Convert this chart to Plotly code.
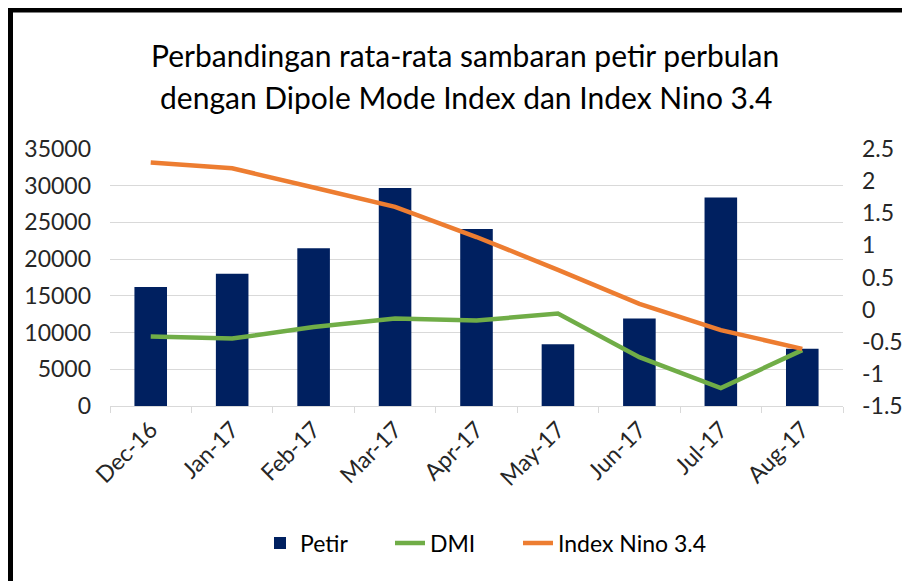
import plotly.graph_objects as go
from plotly.subplots import make_subplots

months = ["Dec-16", "Jan-17", "Feb-17", "Mar-17", "Apr-17", "May-17", "Jun-17", "Jul-17", "Aug-17"]
petir = [16200, 18000, 21500, 29700, 24100, 8400, 11900, 28400, 7800]
dmi = [-0.42, -0.45, -0.27, -0.14, -0.17, -0.06, -0.74, -1.22, -0.63]
nino = [2.29, 2.20, 1.90, 1.60, 1.13, 0.62, 0.09, -0.32, -0.61]

left_tick_vals = [0, 5000, 10000, 15000, 20000, 25000, 30000, 35000]
left_tick_labels = ["0", "5000", "10000", "15000", "20000", "25000", "30000", "35000"]
right_tick_vals = [-1.5, -1, -0.5, 0, 0.5, 1, 1.5, 2, 2.5]
right_tick_labels = ["-1.5", "-1", "-0.5", "0", "0.5", "1", "1.5", "2", "2.5"]

title_lines = ["Perbandingan rata-rata sambaran petir perbulan",
               "dengan Dipole Mode Index dan Index Nino 3.4"]

FONT = "Lato, Open Sans, sans-serif"
OFF = 8  # page body margin
W, H = 910, 581
# target plot area in screenshot pixels: x 110..843, y 149..406
L = 110 - OFF
T = 149 - OFF
R = W - (843 - OFF)
B = H - (406 - OFF)
PW, PH = W - L - R, H - T - B

def px(x):
    return (x - OFF - L) / PW

def py(y):
    return (H - B - (y - OFF)) / PH

fig = make_subplots(specs=[[{"secondary_y": True}]])
fig.add_trace(go.Bar(x=months, y=petir, name="Petir", marker_color="#002060",
                     marker_line_width=0, width=0.4, legend="legend"), secondary_y=False)
fig.add_trace(go.Scatter(x=months, y=dmi, name="DMI", mode="lines", legend="legend2",
                         line=dict(color="#70AD47", width=4.5)), secondary_y=True)
fig.add_trace(go.Scatter(x=months, y=nino, name="Index Nino 3.4", mode="lines", legend="legend3",
                         line=dict(color="#ED7D31", width=4.5)), secondary_y=True)

annotations = [
    dict(text=title_lines[0], xref="paper", yref="paper", x=px(465), y=py(55),
         xanchor="center", yanchor="middle", showarrow=False,
         font=dict(family=FONT, size=30, color="#000000")),
    dict(text=title_lines[1], xref="paper", yref="paper", x=px(466), y=py(97),
         xanchor="center", yanchor="middle", showarrow=False,
         font=dict(family=FONT, size=30, color="#000000")),
]

def legend_at(xpix):
    return dict(orientation="h", x=px(xpix), xanchor="left", y=py(543), yanchor="middle",
                bgcolor="rgba(0,0,0,0)",
                font=dict(family=FONT, size=23, color="#000000"))

fig.update_layout(
    width=W, height=H,
    margin=dict(l=L, r=R, t=T, b=B, autoexpand=False),
    paper_bgcolor="white", plot_bgcolor="white",
    font=dict(family=FONT, size=23, color="#262626"),
    annotations=annotations,
    showlegend=True,
    legend=legend_at(260),
    legend2=legend_at(390),
    legend3=legend_at(518),
    shapes=[
        dict(type="line", xref="paper", yref="paper", x0=px(8), x1=px(918), y0=py(10), y1=py(10),
             line=dict(color="black", width=5)),
        dict(type="line", xref="paper", yref="paper", x0=px(10.5), x1=px(10.5), y0=py(8), y1=py(595),
             line=dict(color="black", width=5)),
    ],
)

fig.update_xaxes(type="category", tickangle=-45, showgrid=False, showline=True, automargin=False,
                 domain=[0, 1],
                 linecolor="#d9d9d9", linewidth=1, ticks="outside", tickson="boundaries",
                 ticklen=6, tickcolor="#d9d9d9", tickfont=dict(size=23, color="#262626"))
fig.update_yaxes(range=[0, 35000], tickvals=left_tick_vals, ticktext=left_tick_labels,
                 showgrid=True, gridcolor="#d9d9d9", gridwidth=1, zeroline=False, automargin=False,
                 ticklabelstandoff=18, tickfont=dict(size=23, color="#262626"),
                 secondary_y=False)
fig.update_yaxes(range=[-1.5, 2.5], tickvals=right_tick_vals, ticktext=right_tick_labels,
                 showgrid=False, zeroline=False, automargin=False, ticklabelstandoff=18,
                 tickfont=dict(size=23, color="#262626"), secondary_y=True)

fig.write_html("out.html")
